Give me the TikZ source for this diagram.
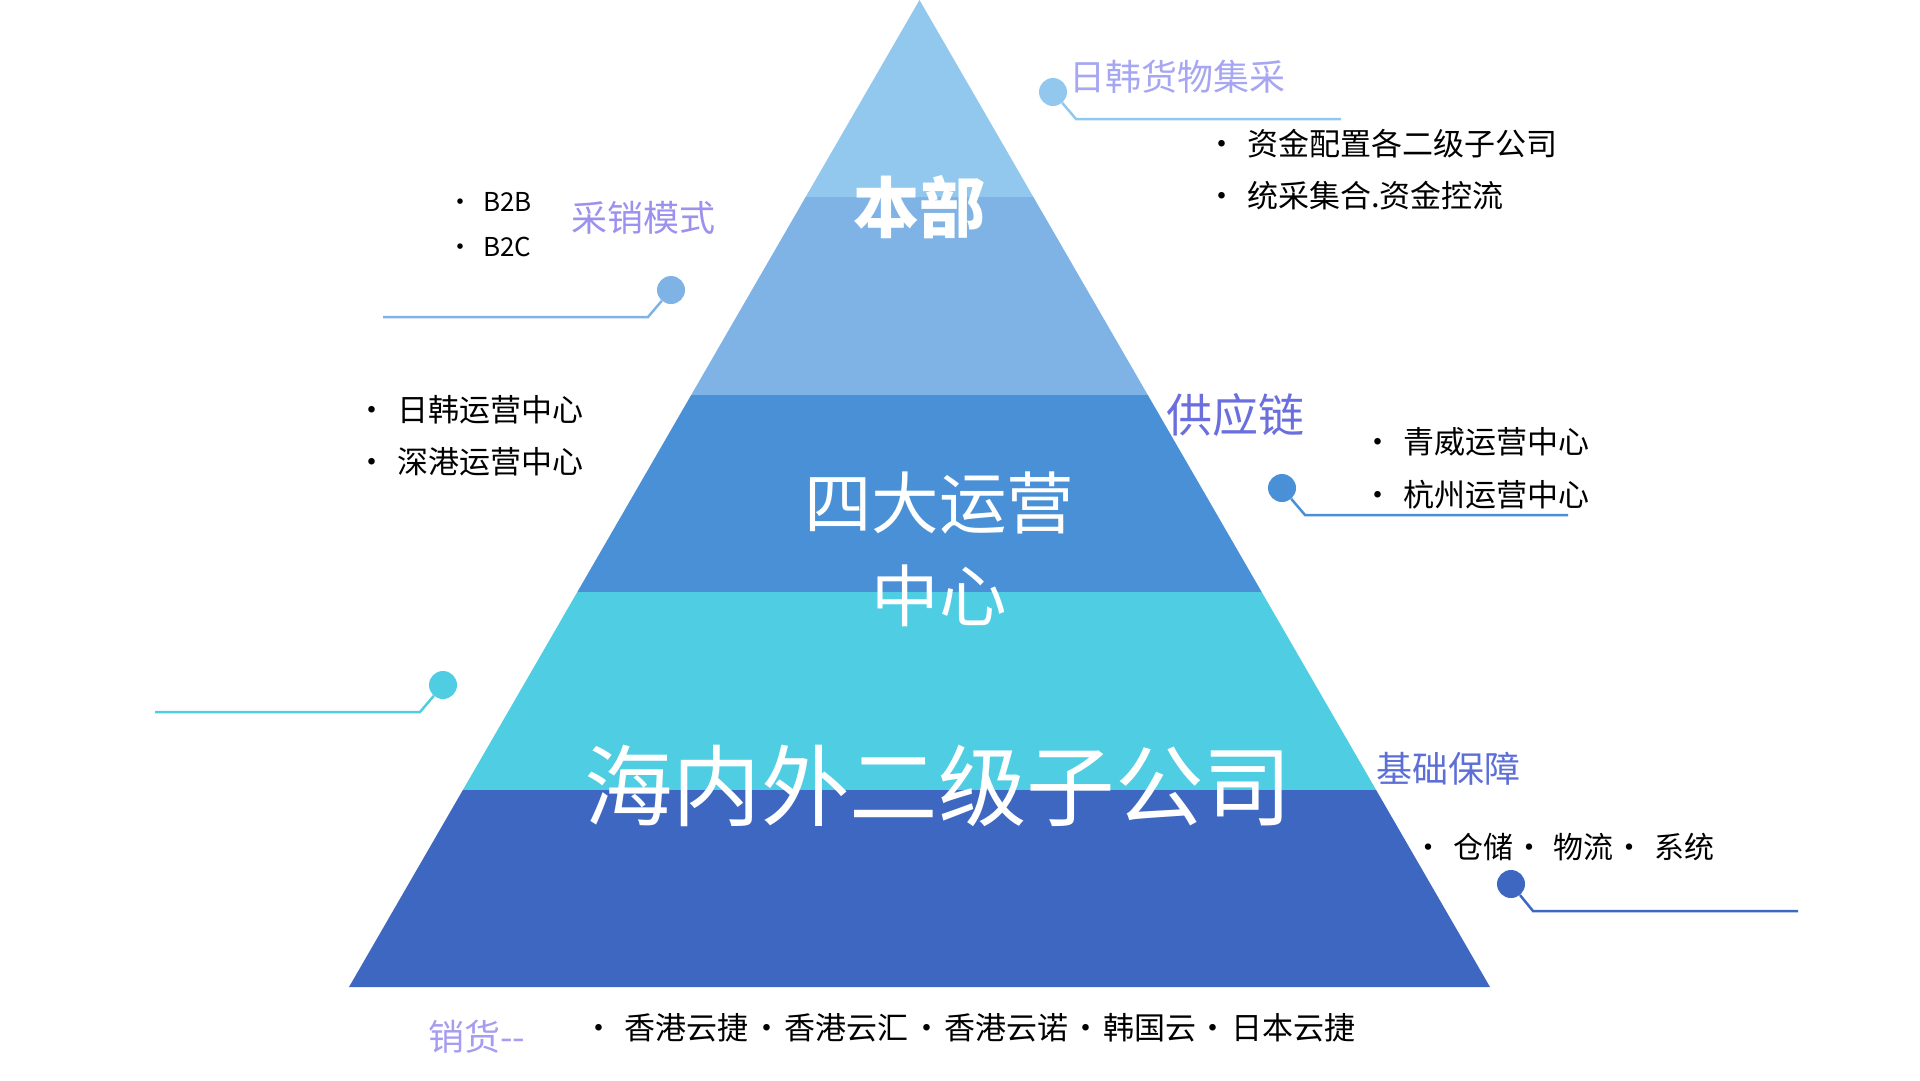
\documentclass[tikz,border=0pt]{standalone}
\usepackage{fontspec}
\setmainfont{Noto Sans CJK SC}
\definecolor{cA}{HTML}{93C8EE}
\definecolor{cB}{HTML}{7FB3E6}
\definecolor{cC}{HTML}{4A90D6}
\definecolor{cD}{HTML}{4ECDE3}
\definecolor{cE}{HTML}{3E67C1}
\definecolor{tA}{HTML}{A6A6F2}
\definecolor{tB}{HTML}{9C91EE}
\definecolor{tC}{HTML}{6B6FDE}
\definecolor{tD}{HTML}{5D6FD7}
\definecolor{tE}{HTML}{A49DF0}
\newcommand\mybul{\makebox[0pt]{•}}
\begin{document}
\begin{tikzpicture}[x=1pt,y=-1pt,
  dot/.style={circle,inner sep=0pt,minimum size=28pt,fill=#1},
  lead/.style={line width=2.5pt,draw=#1},
  item/.style={anchor=west,inner sep=0pt,font=\fontsize{31}{36}\selectfont},
  smallitem/.style={anchor=west,inner sep=0pt,font=\fontsize{26}{30}\selectfont},
  head/.style={inner sep=0pt,text=#1,font=\fontsize{36}{40}\selectfont},
  big/.style={inner sep=0pt,text=white,align=center}]
\useasboundingbox (0,0) rectangle (1920,1080);
% pyramid
\coordinate (apex) at (919.5,0);
\coordinate (bl) at (349,987);
\coordinate (br) at (1490,987);
\begin{scope}
\clip (apex) -- (bl) -- (br) -- cycle;
\fill[cA] (300,-1) rectangle (1540,197.4);
\fill[cB] (300,197.4) rectangle (1540,394.8);
\fill[cC] (300,394.8) rectangle (1540,592.2);
\fill[cD] (300,592.2) rectangle (1540,789.6);
\fill[cE] (300,789.6) rectangle (1540,988);
\end{scope}
% pyramid texts
\node[big,font=\fontsize{66}{70}\selectfont\bfseries] (t1) at (919,207) {本部};
\node[big,font=\fontsize{67.5}{93}\selectfont] (t2) at (939,549) {四大运营\\中心};
\node[big,font=\fontsize{88.5}{96}\selectfont] (t3) at (938,786) {海内外二级子公司};
% connectors
\node[dot=cA] (d1) at (1053,92) {};
\coordinate (e1) at (1076,119); \coordinate (f1) at (1341,119);
\draw[lead=cA] (d1) -- (e1) -- (f1);
\node[dot=cB] (d2) at (671,290) {};
\coordinate (e2) at (648,317); \coordinate (f2) at (383,317);
\draw[lead=cB] (d2) -- (e2) -- (f2);
\node[dot=cC] (d3) at (1282,488) {};
\coordinate (e3) at (1305,515); \coordinate (f3) at (1568,515);
\draw[lead=cC] (d3) -- (e3) -- (f3);
\node[dot=cD] (d4) at (443,685) {};
\coordinate (e4) at (420,712); \coordinate (f4) at (155,712);
\draw[lead=cD] (d4) -- (e4) -- (f4);
\node[dot=cE] (d5) at (1511,884) {};
\coordinate (e5) at (1533,911); \coordinate (f5) at (1798,911);
\draw[lead=cE] (d5) -- (e5) -- (f5);
% headings
\node[head=tA] (h1) at (1177,77) {日韩货物集采};
\node[head=tB] (h2) at (643,218) {采销模式};
\node[head=tC,font=\fontsize{46}{50}\selectfont] (h3) at (1235,415) {供应链};
\node[head=tD] (h4) at (1448,769) {基础保障};
\node[head=tE,anchor=west] (h5) at (428,1037) {销货-{}-};
% lists
\node[item] (l1) at (1222,144) {\mybul\hspace{25pt}资金配置各二级子公司};
\node[item] (l2) at (1222,196) {\mybul\hspace{25pt}统采集合.资金控流};
\node[smallitem] (l3) at (460,202) {\mybul\hspace{23pt}B2B};
\node[smallitem] (l4) at (460,247) {\mybul\hspace{23pt}B2C};
\node[item] (l5) at (372,410) {\mybul\hspace{25pt}日韩运营中心};
\node[item] (l6) at (372,462) {\mybul\hspace{25pt}深港运营中心};
\node[item] (l7) at (1378,442) {\mybul\hspace{25pt}青威运营中心};
\node[item] (l8) at (1378,495) {\mybul\hspace{25pt}杭州运营中心};
\node[item,font=\fontsize{30}{36}\selectfont] (l9) at (1428,847) {\mybul\hspace{25pt}仓储\hspace{16pt}\mybul\hspace{24pt}物流\hspace{16pt}\mybul\hspace{25pt}系统};
\node[item] (l10) at (599,1028) {\mybul\hspace{25pt}香港云捷\hspace{19pt}\mybul\hspace{17pt}香港云汇\hspace{19pt}\mybul\hspace{17pt}香港云诺\hspace{18pt}\mybul\hspace{17pt}韩国云\hspace{17pt}\mybul\hspace{18pt}日本云捷};
\end{tikzpicture}
\end{document}
